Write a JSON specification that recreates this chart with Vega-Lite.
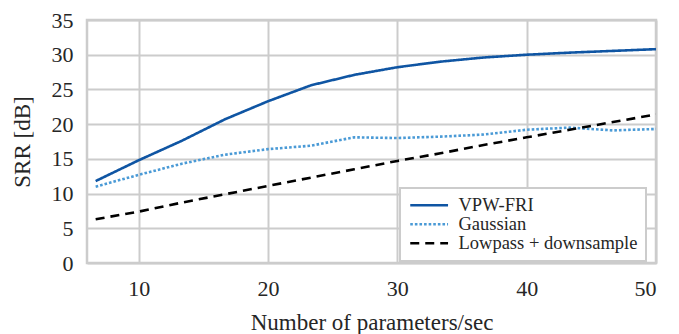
{
  "$schema": "https://vega.github.io/schema/vega-lite/v6.json",
  "autosize": "none",
  "width": 569,
  "height": 243,
  "padding": {"left": 87, "top": 20, "right": 23, "bottom": 71},
  "background": "white",
  "config": {
    "font": "Liberation Serif",
    "style": {"guide-label": {"font": "Liberation Serif"}, "guide-title": {"font": "Liberation Serif"}},
    "view": {"stroke": "#cccccc", "strokeWidth": 2.5},
    "axis": {
      "grid": true,
      "gridColor": "#cccccc",
      "gridWidth": 2,
      "domain": false,
      "ticks": false,
      "labelFont": "Liberation Serif",
      "labelFontSize": 22,
      "labelColor": "#262626",
      "titleFont": "Liberation Serif",
      "titleFontSize": 23,
      "titleFontWeight": "normal",
      "titleColor": "#262626"
    }
  },
  "data": {
    "values": [
      {"x": 6.67, "y": 11.8, "method": "VPW-FRI"},
      {"x": 10.0, "y": 14.8, "method": "VPW-FRI"},
      {"x": 13.33, "y": 17.6, "method": "VPW-FRI"},
      {"x": 16.67, "y": 20.7, "method": "VPW-FRI"},
      {"x": 20.0, "y": 23.3, "method": "VPW-FRI"},
      {"x": 23.33, "y": 25.6, "method": "VPW-FRI"},
      {"x": 26.67, "y": 27.1, "method": "VPW-FRI"},
      {"x": 30.0, "y": 28.2, "method": "VPW-FRI"},
      {"x": 33.33, "y": 29.0, "method": "VPW-FRI"},
      {"x": 36.67, "y": 29.6, "method": "VPW-FRI"},
      {"x": 40.0, "y": 30.0, "method": "VPW-FRI"},
      {"x": 43.33, "y": 30.3, "method": "VPW-FRI"},
      {"x": 46.67, "y": 30.55, "method": "VPW-FRI"},
      {"x": 50.0, "y": 30.8, "method": "VPW-FRI"},
      {"x": 6.67, "y": 11.0, "method": "Gaussian"},
      {"x": 10.0, "y": 12.7, "method": "Gaussian"},
      {"x": 13.33, "y": 14.3, "method": "Gaussian"},
      {"x": 16.67, "y": 15.6, "method": "Gaussian"},
      {"x": 20.0, "y": 16.4, "method": "Gaussian"},
      {"x": 23.33, "y": 16.9, "method": "Gaussian"},
      {"x": 26.67, "y": 18.1, "method": "Gaussian"},
      {"x": 30.0, "y": 18.0, "method": "Gaussian"},
      {"x": 33.33, "y": 18.2, "method": "Gaussian"},
      {"x": 36.67, "y": 18.5, "method": "Gaussian"},
      {"x": 40.0, "y": 19.2, "method": "Gaussian"},
      {"x": 43.33, "y": 19.5, "method": "Gaussian"},
      {"x": 46.67, "y": 19.1, "method": "Gaussian"},
      {"x": 50.0, "y": 19.3, "method": "Gaussian"},
      {"x": 6.67, "y": 6.3, "method": "Lowpass + downsample"},
      {"x": 10.0, "y": 7.4, "method": "Lowpass + downsample"},
      {"x": 13.33, "y": 8.7, "method": "Lowpass + downsample"},
      {"x": 16.67, "y": 9.9, "method": "Lowpass + downsample"},
      {"x": 20.0, "y": 11.1, "method": "Lowpass + downsample"},
      {"x": 23.33, "y": 12.3, "method": "Lowpass + downsample"},
      {"x": 26.67, "y": 13.5, "method": "Lowpass + downsample"},
      {"x": 30.0, "y": 14.7, "method": "Lowpass + downsample"},
      {"x": 33.33, "y": 15.8, "method": "Lowpass + downsample"},
      {"x": 36.67, "y": 17.0, "method": "Lowpass + downsample"},
      {"x": 40.0, "y": 18.1, "method": "Lowpass + downsample"},
      {"x": 43.33, "y": 19.2, "method": "Lowpass + downsample"},
      {"x": 46.67, "y": 20.3, "method": "Lowpass + downsample"},
      {"x": 50.0, "y": 21.4, "method": "Lowpass + downsample"}
    ]
  },
  "mark": {"type": "line", "strokeWidth": 2.6, "clip": true},
  "encoding": {
    "x": {
      "field": "x",
      "type": "quantitative",
      "scale": {"domain": [6, 50], "nice": false, "zero": false},
      "axis": {"values": [10, 20, 30, 40, 50], "title": "Number of parameters/sec", "labelFont": "Liberation Serif", "labelPadding": 15, "titlePadding": 12}
    },
    "y": {
      "field": "y",
      "type": "quantitative",
      "scale": {"domain": [0, 35], "nice": false},
      "axis": {"values": [0, 5, 10, 15, 20, 25, 30, 35], "title": "SRR [dB]", "labelFont": "Liberation Serif", "labelPadding": 14, "titlePadding": 17}
    },
    "color": {
      "field": "method",
      "type": "nominal",
      "scale": {
        "domain": ["VPW-FRI", "Gaussian", "Lowpass + downsample"],
        "range": ["#0f55a3", "#4a9ad6", "#000000"]
      },
      "legend": {
        "title": null,
        "orient": "none",
        "legendX": 313,
        "legendY": 168,
        "symbolType": "M-1,0H4.4",
        "symbolSize": 196,
        "symbolStrokeWidth": 2.6,
        "symbolFillColor": "transparent",
        "labelFont": "Liberation Serif",
        "labelFontSize": 18.5,
        "labelColor": "#262626",
        "labelLimit": 400,
        "rowPadding": 0,
        "labelOffset": 32,
        "padding": 8,
        "fillColor": "white",
        "strokeColor": "#cccccc",
        "encode": {"legend": {"update": {"strokeWidth": {"value": 2}}}}
      }
    },
    "strokeDash": {
      "field": "method",
      "type": "nominal",
      "scale": {
        "domain": ["VPW-FRI", "Gaussian", "Lowpass + downsample"],
        "range": [[1, 0], [2.6, 2], [9, 6]]
      },
      "legend": null
    }
  }
}
